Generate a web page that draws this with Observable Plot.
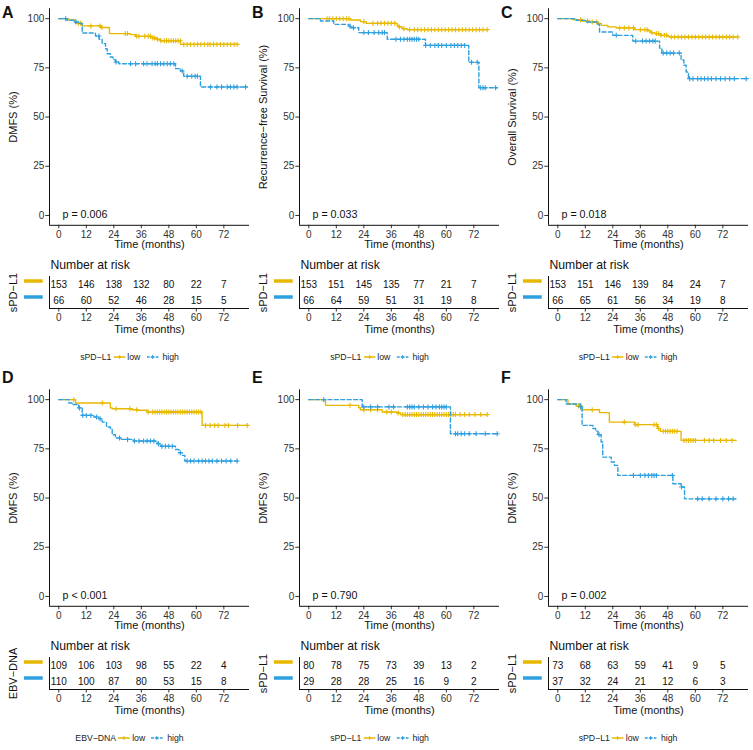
<!DOCTYPE html>
<html><head><meta charset="utf-8">
<script src="https://cdn.jsdelivr.net/npm/d3@7"></script>
<script src="https://cdn.jsdelivr.net/npm/@observablehq/plot@0.6"></script>
<style>
body{margin:0;background:#fff;}
#root{position:relative;width:753px;height:750px;overflow:hidden;font-family:"Liberation Sans",Arial,sans-serif;background:#fff;}
#root svg{position:absolute;}
.leg{position:absolute;display:flex;align-items:center;font-size:8.7px;color:#222;transform:translate(-50%,-50%);white-space:nowrap;}
.leg svg{position:static !important;}
</style></head><body><div id="root"></div>
<script>
// ---------- data ----------
const months = [0, 12, 24, 36, 48, 60, 72];
const yTicks = [0, 25, 50, 75, 100];
const groups = ["low", "high"];
const panelLetters = ["A", "B", "C", "D", "E", "F"];
const yTitles = ["DMFS (%)", "Recurrence\u2212free Survival (%)", "Overall Survival (%)", "DMFS (%)", "DMFS (%)", "DMFS (%)"];
const strataTitles = ["sPD\u2212L1", "sPD\u2212L1", "sPD\u2212L1", "EBV\u2212DNA", "sPD\u2212L1", "sPD\u2212L1"];
const pLabels = ["p = 0.006", "p = 0.033", "p = 0.018", "p < 0.001", "p = 0.790", "p = 0.002"];

const riskLow = [
  [153, 146, 138, 132, 80, 22, 7],
  [153, 151, 145, 135, 77, 21, 7],
  [153, 151, 146, 139, 84, 24, 7],
  [109, 106, 103, 98, 55, 22, 4],
  [80, 78, 75, 73, 39, 13, 2],
  [73, 68, 63, 59, 41, 9, 5]
];
const riskHigh = [
  [66, 60, 52, 46, 28, 15, 5],
  [66, 64, 59, 51, 31, 19, 8],
  [66, 65, 61, 56, 34, 19, 8],
  [110, 100, 87, 80, 53, 15, 8],
  [29, 28, 28, 25, 16, 9, 2],
  [37, 32, 24, 21, 12, 6, 3]
];

// survival step points [months, %] (last point = end of follow-up)
const aLowSteps = [[0,100],[4.4,99.3],[7.3,97.6],[10.2,96.3],[18.2,95.5],[22.1,92.4],[31.3,91.9],[33.5,91.0],[40.7,90.2],[42.9,89.5],[44.4,88.8],[53.1,86.9],[77.8,86.9]];
const aLowCens = [8.5,9.5,14,18,18.8,29,30,34,35,37.5,39,40,41,41.8,43,44.5,46,47,48,49,50,51,52,53,54.5,56,57.5,59,60.5,62,63.5,65,66,67.5,69,70.5,72,73.5,75,76.5,77.8];
const aHighSteps = [[0,100],[3.6,99.2],[6.8,98.3],[8.7,97.5],[10.2,92.7],[16,91.2],[17.6,89.5],[18.9,87.3],[20.4,84.7],[21.1,82.2],[22.5,80.5],[23.6,79.2],[24.7,78],[26.2,77.1],[50.9,74.6],[53.1,73.4],[54.5,70.7],[61.8,65.3],[82.2,65.3]];
const aHighCens = [3,7.5,17.5,25,31.3,33.5,37,38.5,40.7,42,43,44.4,45.8,47.3,48.7,50.2,53.8,56,58,59.5,60.5,66.2,69,71,73.5,74.9,76.4,77.8,81.5];

const bLowSteps = [[0,100],[18.2,99.3],[22.5,98.5],[25,97.6],[38.5,96.6],[39.3,95.8],[40.7,94.9],[42.9,94.4],[77.8,94.4]];
const bLowCens = [8,9,10.5,12,13.5,15,16.5,17.5,24,28,30,31.5,33,34.5,36,37.5,39.5,41.5,44,46,47.5,49,50.5,52,53.5,55,56.5,58,59.5,61,62.5,64,65.5,67,68.5,70,71.5,73,74.5,76,77.8];
const bHighSteps = [[0,100],[5.1,98.8],[10.9,97.1],[17.5,96.1],[18.2,95.4],[21.8,92.9],[34.2,89.5],[50.9,86.4],[69.8,77.8],[74.2,64.9],[82.2,64.9]];
const bHighCens = [18,19.5,24,26,28.5,30.5,32,33,38,40,41.5,43,44,45,46,47,48,51,53,55,56.5,58,60,62,63.5,65,66.5,68,71,73.5,75,76,77,81.5];

const cLowSteps = [[0,100],[6.5,99.5],[10.2,98.8],[13.8,98.3],[17.5,97.5],[19,96.6],[21.8,95.8],[25.5,95.3],[33.5,94.4],[39.3,93.7],[40.7,92.9],[42.2,92.4],[45,91.5],[48,91],[48.7,90.7],[78.5,90.7]];
const cLowCens = [10,13,15,17,27,29,31,33,36,38,39,41,43,44,45,46.5,47.5,49.5,51,52.5,54,55.5,57,58.5,60,61.5,63,64.5,66,67.5,69,70.5,72,73.5,75,76.5,78.5];
const cHighSteps = [[0,100],[8,99.1],[12.4,98.3],[17.5,97],[18.2,93.2],[24,91.5],[32.7,88.6],[44.4,85],[45.4,82.5],[53.8,79],[55,76.3],[56,72.9],[57,69.5],[82.2,69.5]];
const cHighCens = [25.5,34,37,38.5,40,41.5,42.5,46,47.5,49,50.5,53,57.5,59,61,62.5,64,65.5,67,69,71,73,75,77,82.2];

const dLowSteps = [[0,100],[7.3,98.3],[22.5,95.8],[23.3,95.4],[32,94.9],[34.2,94.6],[38.5,93.7],[62.5,86.9],[82.2,86.9]];
const dLowCens = [6.5,19,25,31,34,39,41,42,43,44,45,46,47,48,49,50,51,52,53,54,55,56,57,58,59,60,61,62,64,66,68,69.5,72.5,74,78,82.2];
const dHighSteps = [[0,100],[4.4,98.3],[5.8,97.5],[8.7,95.8],[10.2,92],[15.3,91.2],[17.5,90.3],[18.9,88.6],[20.8,86.1],[22.5,85.3],[23.3,82.2],[24.7,80.5],[26.9,79.8],[32.7,79],[42.9,77.6],[44.4,76.3],[50.9,74.7],[52.4,73],[53.8,71.7],[55,68.8],[77.8,68.8]];
const dHighCens = [9,10.5,12,14,16.5,18,26.5,30,33,35,37,38.5,40,41.5,43.5,45,46.5,48,49.5,53,56,57.5,59,61,62.5,64,65.5,67,69,71,73,75,77.8];

const eLowSteps = [[0,100],[7.3,97.1],[21.8,95.9],[22.5,94.9],[32,93.7],[38.5,93.2],[40,92.4],[77.8,92.4]];
const eLowCens = [18,24,27,30,34,36,39,41,42,43,44,45,46,47,48,49,50,51,52,53,54,55,56,57,58,59,60,61,62,63,64,66,68,70,72.5,75,77.8];
const eHighSteps = [[0,100],[23.3,96.3],[61.8,82.7],[82.2,82.7]];
const eHighCens = [6.5,24,27,30,35,37,43,44,45,46,48,50,52,54,55.5,57,58,59,60,64,65,66.5,68,70,73,77,82.2];

const fLowSteps = [[0,100],[4.4,97.8],[8,96.8],[10.2,94.9],[18.2,93.4],[22.5,88.6],[33.5,87.3],[43.6,85.3],[44.8,83.9],[53.8,79.3],[77.8,79.3]];
const fLowCens = [9,10,15,29,34,35,42,43,44,46,47,48,49,50,51,52,55,56,57,58,59,60,64,66,68,71,73.5,76];
const fHighSteps = [[0,100],[3.6,97.8],[9.9,96.3],[10.6,86.9],[15.3,85.3],[16.5,84],[17.5,82.2],[18.9,78.5],[19.6,70.8],[23.3,68.3],[24.7,66.6],[26.2,61.5],[50.2,57.3],[53.8,55.6],[55.3,49.6],[77.8,49.6]];
const fHighCens = [10,18,33,36,38,39.5,41,42,43,50,54,61,63,66,69,72,74.5,76.5];

const panels = [
  {low: aLowSteps, lowC: aLowCens, high: aHighSteps, highC: aHighCens},
  {low: bLowSteps, lowC: bLowCens, high: bHighSteps, highC: bHighCens},
  {low: cLowSteps, lowC: cLowCens, high: cHighSteps, highC: cHighCens},
  {low: dLowSteps, lowC: dLowCens, high: dHighSteps, highC: dHighCens},
  {low: eLowSteps, lowC: eLowCens, high: eHighSteps, highC: eHighCens},
  {low: fLowSteps, lowC: fLowCens, high: fHighSteps, highC: fHighCens}
];

// ---------- style / layout ----------
const colors = {low: "#E7B800", high: "#2E9FDF"};
const FONT = '"Liberation Sans", Arial, sans-serif';
const colX = [0, 250, 498.5];
const rowY = [0, 381];
const letterBase = [18.3, 383];
const xDomain = [-4.06, 83.2];
const yDomain = [-5, 105];
const riskYDomain = [0.5, 2.5];
const barX = [-15, -6.8];
const pX = 1.6;
const dash = "4,2.4";

const plusSymbol = {
  draw(ctx, size) {
    const r = Math.sqrt(size / Math.PI);
    ctx.moveTo(-r, 0); ctx.lineTo(r, 0);
    ctx.moveTo(0, -r); ctx.lineTo(0, r);
  }
};

function survAt(steps, t) {
  let s = steps[0][1];
  for (const [tt, ss] of steps) if (tt <= t) s = ss;
  return s;
}

const root = document.getElementById("root");
function place(el, x, y) {
  el.style.left = x + "px"; el.style.top = y + "px"; root.appendChild(el);
}

panels.forEach((p, i) => {
  const cx = colX[i % 3], ry = rowY[Math.floor(i / 3)];
  const lineRows = g => p[g].map(([t, s]) => ({t, s}));
  const censRows = g => p[g + "C"].map(t => ({t, s: survAt(p[g], t)}));

  const km = Plot.plot({
    width: 251, height: 250,
    marginLeft: 49, marginRight: 2, marginTop: 8.3, marginBottom: 25.2,
    x: {domain: xDomain},
    y: {domain: yDomain},
    style: {fontFamily: FONT, background: "transparent", overflow: "visible", color: "#222"},
    marks: [
      Plot.axisX({ticks: months, tickSize: 3.5, tickPadding: 1.8, fontSize: 10, label: null, color: "#333"}),
      Plot.axisY({ticks: yTicks, tickSize: 3.7, tickPadding: 1.5, fontSize: 10, label: null, color: "#333"}),
      Plot.ruleX([xDomain[0]], {stroke: "#111", strokeWidth: 1}),
      Plot.ruleY([yDomain[0]], {stroke: "#111", strokeWidth: 1}),
      Plot.text(["Time (months)"], {frameAnchor: "bottom", lineAnchor: "middle", dy: 19.5, fontSize: 11, fill: "#111"}),
      Plot.text([yTitles[i]], {frameAnchor: "left", rotate: -90, textAnchor: "middle", lineAnchor: "middle", dx: -36, fontSize: 11, fill: "#111"}),
      Plot.line(lineRows("low"), {x: "t", y: "s", curve: "step-after", stroke: colors.low, strokeWidth: 1.4}),
      Plot.dot(censRows("low"), {x: "t", y: "s", symbol: plusSymbol, r: 2.5, fill: "none", stroke: colors.low, strokeWidth: 1.1}),
      Plot.line(lineRows("high"), {x: "t", y: "s", curve: "step-after", stroke: colors.high, strokeWidth: 1.4, strokeDasharray: dash}),
      Plot.dot(censRows("high"), {x: "t", y: "s", symbol: plusSymbol, r: 2.5, fill: "none", stroke: colors.high, strokeWidth: 1.1}),
      Plot.text([pLabels[i]], {x: pX, y: 0, textAnchor: "start", lineAnchor: "middle", dy: -1, fontSize: 10.7, fill: "#111"})
    ]
  });
  place(km, cx, ry);

  const riskRows = [];
  months.forEach((t, k) => {
    riskRows.push({g: "low", row: 1, t, n: riskLow[i][k]});
    riskRows.push({g: "high", row: 2, t, n: riskHigh[i][k]});
  });
  const barRows = groups.map((g, k) => ({g, row: k + 1}));

  const risk = Plot.plot({
    width: 251, height: 80,
    marginLeft: 49, marginRight: 2, marginTop: 21, marginBottom: 27,
    x: {domain: xDomain},
    y: {domain: riskYDomain, reverse: true, axis: null},
    style: {fontFamily: FONT, background: "transparent", overflow: "visible", color: "#222"},
    marks: [
      Plot.axisX({ticks: months, tickSize: 3.5, tickPadding: 1.8, fontSize: 10, label: null, color: "#333"}),
      Plot.ruleX([xDomain[0]], {stroke: "#111", strokeWidth: 1}),
      Plot.ruleY([riskYDomain[1]], {stroke: "#111", strokeWidth: 1}),
      Plot.text(riskRows, {x: "t", y: "row", text: "n", fontSize: 10, fill: "#111", lineAnchor: "middle"}),
      Plot.ruleY(barRows.filter(d => d.g === "low"), {y: "row", x1: barX[0], x2: barX[1], stroke: colors.low, strokeWidth: 3.5, dy: -3.5}),
      Plot.ruleY(barRows.filter(d => d.g === "high"), {y: "row", x1: barX[0], x2: barX[1], stroke: colors.high, strokeWidth: 3.5, dy: -3.5}),
      Plot.text(["Number at risk"], {frameAnchor: "top-left", textAnchor: "start", lineAnchor: "middle", dx: 1, dy: -11, fontSize: 12.2, fill: "#111"}),
      Plot.text(["Time (months)"], {frameAnchor: "bottom", lineAnchor: "middle", dy: 20.5, fontSize: 11, fill: "#111"}),
      Plot.text([strataTitles[i]], {frameAnchor: "left", rotate: -90, textAnchor: "middle", lineAnchor: "middle", dx: -36, fontSize: 11, fill: "#111"})
    ]
  });
  place(risk, cx, ry + 255);

  // panel letter
  const letter = document.createElementNS("http://www.w3.org/2000/svg", "svg");
  letter.setAttribute("width", 20); letter.setAttribute("height", 24);
  d3.select(letter).append("text").attr("x", 2).attr("y", 20).attr("font-family", FONT)
    .attr("font-weight", "bold").attr("font-size", 16).attr("fill", "#111").text(panelLetters[i]);
  place(letter, cx, (letterBase[Math.floor(i / 3)]) - 20);

  // legend
  const leg = document.createElement("div");
  leg.className = "leg";
  const L = d3.select(leg);
  L.append("span").text(strataTitles[i]).style("margin-right", "2px");
  groups.forEach((g, k) => {
    const s = L.append("svg").attr("width", 12).attr("height", 8);
    s.append("line").attr("x1", 0).attr("x2", 12).attr("y1", 4).attr("y2", 4)
      .attr("stroke", colors[g]).attr("stroke-width", 1.3).attr("stroke-dasharray", g === "high" ? "3,1.5" : null);
    s.append("path").attr("d", "M4,4h4M6,2v4").attr("stroke", colors[g]).attr("stroke-width", 1);
    L.append("span").text(g).style("margin", k === 0 ? "0 6px 0 2px" : "0 0 0 4px");
  });
  place(leg, cx + 129.5, ry + 357);
});
</script></body></html>
